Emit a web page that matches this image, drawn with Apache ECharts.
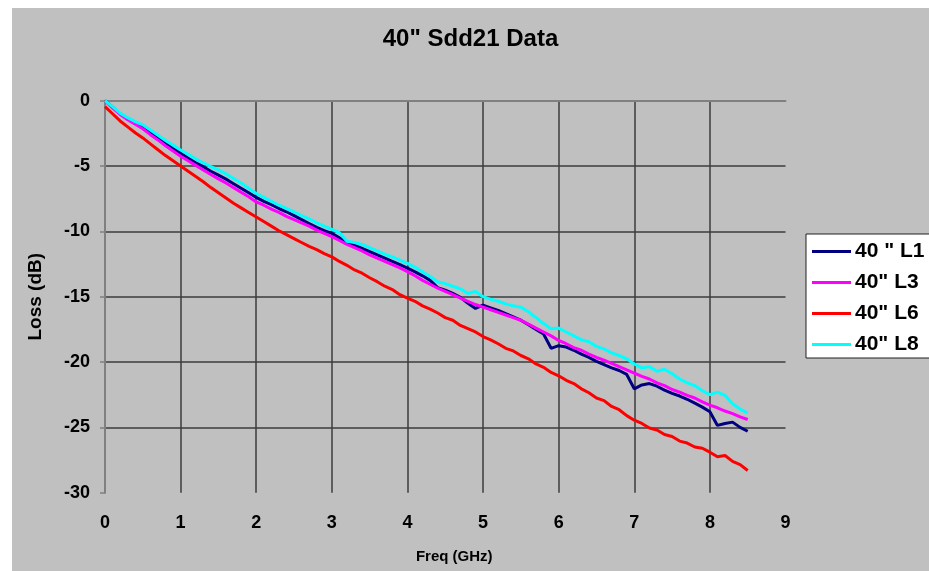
<!DOCTYPE html>
<html>
<head>
<meta charset="utf-8">
<title>40" Sdd21 Data</title>
<script src="https://cdn.jsdelivr.net/npm/echarts@6/dist/echarts.min.js"></script>
<style>
  html, body { margin: 0; padding: 0; background: #ffffff; width: 929px; height: 571px; overflow: hidden; }
  #chart { position: absolute; left: 12px; top: 8px; width: 917px; height: 563px; }
</style>
</head>
<body>
<div id="chart"></div>
<script>
// Frequency points (GHz)
const freq = [
  0.0, 0.1, 0.2, 0.3, 0.4, 0.5, 0.6, 0.7, 0.8, 0.9,
  1.0, 1.1, 1.2, 1.3, 1.4, 1.5, 1.6, 1.7, 1.8, 1.9,
  2.0, 2.1, 2.2, 2.3, 2.4, 2.5, 2.6, 2.7, 2.8, 2.9,
  3.0, 3.1, 3.2, 3.3, 3.4, 3.5, 3.6, 3.7, 3.8, 3.9,
  4.0, 4.1, 4.2, 4.3, 4.4, 4.5, 4.6, 4.7, 4.8, 4.9,
  5.0, 5.1, 5.2, 5.3, 5.4, 5.5, 5.6, 5.7, 5.8, 5.9,
  6.0, 6.1, 6.2, 6.3, 6.4, 6.5, 6.6, 6.7, 6.8, 6.9,
  7.0, 7.1, 7.2, 7.3, 7.4, 7.5, 7.6, 7.7, 7.8, 7.9,
  8.0, 8.1, 8.2, 8.3, 8.4, 8.5
];

// Sdd21 insertion loss (dB) per trace
const lossL1 = [
  0, -0.5, -1.0, -1.38, -1.7, -2.0, -2.4, -2.8, -3.25, -3.65,
  -4.03, -4.4, -4.75, -5.05, -5.4, -5.7, -6.0, -6.35, -6.7, -7.05,
  -7.4, -7.7, -7.95, -8.25, -8.5, -8.8, -9.1, -9.4, -9.7, -9.95,
  -10.15, -10.5, -10.85, -11.05, -11.3, -11.55, -11.8, -12.05, -12.3, -12.55,
  -12.82, -13.1, -13.4, -13.75, -14.3, -14.5, -14.75, -15.05, -15.5, -15.9,
  -15.65, -15.85, -16.05, -16.3, -16.55, -16.8, -17.15, -17.5, -17.85, -18.95,
  -18.75, -18.85, -19.1, -19.4, -19.65, -19.95, -20.2, -20.45, -20.65, -20.95,
  -22.05, -21.75, -21.65, -21.85, -22.15, -22.4, -22.6, -22.85, -23.15, -23.45,
  -23.8, -24.85, -24.7, -24.6, -25.0, -25.3
];

const lossL3 = [
  0, -0.55, -1.05, -1.45, -1.8, -2.15, -2.6, -3.0, -3.45, -3.85,
  -4.25, -4.6, -4.95, -5.3, -5.65, -5.98, -6.3, -6.65, -7.0, -7.35,
  -7.75, -8.0, -8.3, -8.55, -8.85, -9.1, -9.35, -9.6, -9.9, -10.15,
  -10.4, -10.7, -11.0, -11.25, -11.5, -11.8, -12.05, -12.3, -12.55, -12.8,
  -13.08, -13.4, -13.75, -14.05, -14.35, -14.6, -14.85, -15.1, -15.35, -15.6,
  -15.8, -16.0, -16.2, -16.4, -16.6, -16.8, -17.1, -17.4, -17.7, -18.0,
  -18.35, -18.6, -18.9, -19.1, -19.4, -19.65, -19.85, -20.1, -20.35, -20.6,
  -20.85, -21.1, -21.3, -21.6, -21.8, -22.1, -22.3, -22.55, -22.75, -23.05,
  -23.3, -23.5, -23.75, -23.95, -24.2, -24.4
];

const lossL6 = [
  -0.45, -1.0, -1.55, -2.0, -2.45, -2.85, -3.3, -3.75, -4.2, -4.6,
  -5.0, -5.4, -5.8, -6.2, -6.65, -7.05, -7.45, -7.85, -8.2, -8.55,
  -8.9, -9.25, -9.6, -9.95, -10.25, -10.55, -10.85, -11.15, -11.4, -11.7,
  -11.95, -12.3, -12.6, -12.95, -13.2, -13.55, -13.85, -14.2, -14.45, -14.85,
  -15.1, -15.35, -15.7, -15.95, -16.25, -16.6, -16.8, -17.2, -17.45, -17.7,
  -18.05, -18.3, -18.6, -18.95, -19.15, -19.5, -19.75, -20.15, -20.4, -20.8,
  -21.05, -21.4, -21.65, -22.05, -22.35, -22.75, -22.95, -23.4, -23.65, -24.1,
  -24.45, -24.7, -25.05, -25.2, -25.55, -25.7, -26.05, -26.2, -26.5, -26.6,
  -26.9, -27.25, -27.15, -27.6, -27.85, -28.3
];

const lossL8 = [
  0, -0.45, -0.95, -1.3, -1.6, -1.85, -2.25, -2.65, -3.05, -3.4,
  -3.77, -4.1, -4.45, -4.75, -5.05, -5.3, -5.6, -5.95, -6.3, -6.7,
  -7.1, -7.4, -7.7, -8.0, -8.25, -8.5, -8.8, -9.05, -9.35, -9.6,
  -9.85, -10.1, -10.75, -10.85, -11.0, -11.25, -11.5, -11.75, -11.95, -12.2,
  -12.45, -12.75, -13.1, -13.45, -13.85, -14.0, -14.2, -14.4, -14.75, -14.6,
  -15.0, -15.2, -15.35, -15.55, -15.7, -15.8, -16.15, -16.6, -17.05, -17.45,
  -17.4, -17.7, -18.0, -18.3, -18.45, -18.8, -19.0, -19.3, -19.5, -19.75,
  -20.15, -20.45, -20.35, -20.7, -20.55, -20.9, -21.3, -21.6, -21.8, -22.2,
  -22.5, -22.3, -22.55, -23.2, -23.6, -23.9
];

const seriesNames = ['40 " L1', '40" L3', '40" L6', '40" L8'];
const seriesColors = ['#000080', '#ff00ff', '#ff0000', '#00ffff'];
const seriesValues = [lossL1, lossL3, lossL6, lossL8];

const FONT = '"Liberation Sans", Arial, sans-serif';

function pairs(values) {
  return values.map((v, i) => [freq[i], v]);
}

const chart = echarts.init(document.getElementById('chart'), null, { renderer: 'canvas' });

chart.setOption({
  backgroundColor: '#c0c0c0',
  animation: false,
  title: {
    text: '40" Sdd21 Data',
    left: 'center',
    top: 14,
    textStyle: { fontFamily: FONT, fontWeight: 'bold', fontSize: 24, color: '#000' }
  },
  grid: { left: 93, top: 92.7, width: 680.5, height: 392, containLabel: false },
  legend: {
    orient: 'vertical',
    left: 794,
    top: 226,
    padding: [7, 40, 3, 6],
    icon: 'rect',
    itemWidth: 39,
    itemHeight: 3,
    itemGap: 10,
    backgroundColor: '#ffffff',
    borderColor: '#202020',
    borderWidth: 1,
    borderRadius: 0,
    textStyle: { fontFamily: FONT, fontWeight: 'bold', fontSize: 21, color: '#000', padding: [0, 0, 0, -1] },
    data: seriesNames
  },
  xAxis: [
    {
      type: 'value',
      min: 0,
      max: 9,
      interval: 1,
      position: 'bottom',
      name: 'Freq (GHz)',
      nameLocation: 'middle',
      nameGap: 57,
      nameTextStyle: { fontFamily: FONT, fontWeight: 'bold', fontSize: 15, color: '#000', padding: [0, 0, 0, 18] },
      axisLine: { show: false },
      axisTick: { show: false },
      axisLabel: { margin: 21, fontFamily: FONT, fontWeight: 'bold', fontSize: 18, color: '#000' },
      splitLine: { show: true, showMinLine: false, showMaxLine: false, lineStyle: { color: '#3c3c3c', width: 1.5 } }
    },
    {
      type: 'value',
      min: 0,
      max: 9,
      interval: 1,
      position: 'top',
      axisLine: { show: true, lineStyle: { color: '#808080', width: 2 } },
      axisTick: { show: false },
      axisLabel: { show: false },
      splitLine: { show: false }
    }
  ],
  yAxis: {
    type: 'value',
    min: -30,
    max: 0,
    interval: 5,
    name: 'Loss (dB)',
    nameLocation: 'middle',
    nameGap: 60,
    nameTextStyle: { fontFamily: FONT, fontWeight: 'bold', fontSize: 19, color: '#000' },
    axisLine: { show: true, lineStyle: { color: '#808080', width: 2 } },
    axisTick: { show: true, inside: false, length: 5, lineStyle: { color: '#808080', width: 1.5 } },
    axisLabel: { margin: 15, fontFamily: FONT, fontWeight: 'bold', fontSize: 18, color: '#000' },
    splitLine: { show: true, showMinLine: false, showMaxLine: false, lineStyle: { color: '#3c3c3c', width: 1.5 } }
  },
  series: seriesNames.map((name, k) => ({
    name: name,
    type: 'line',
    xAxisIndex: 0,
    data: pairs(seriesValues[k]),
    symbol: 'none',
    smooth: false,
    lineStyle: { color: seriesColors[k], width: 3 },
    itemStyle: { color: seriesColors[k] },
    z: 2 + k
  }))
});
</script>
</body>
</html>
